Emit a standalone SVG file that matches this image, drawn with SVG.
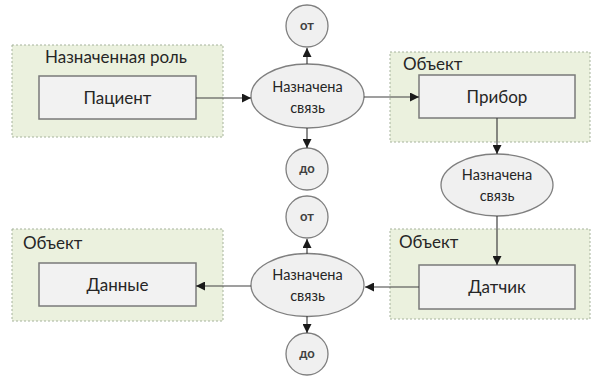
<svg xmlns="http://www.w3.org/2000/svg" width="597" height="376" viewBox="0 0 597 376">
<defs>
<marker id="ah" viewBox="0 0 10 10" refX="10" refY="5" markerWidth="9" markerHeight="9" markerUnits="userSpaceOnUse" orient="auto">
<path d="M0,0 L10,5 L0,10 z" fill="#1a1a1a"/>
</marker>
<style>
.grp{fill:#ebf1de;stroke:#a6b39c;stroke-width:1;stroke-dasharray:2 2}
.box{fill:#f2f2f2;stroke:#7a7a7a;stroke-width:1.5}
.ell{fill:#f0f0f0;stroke:#7f7f7f;stroke-width:1.3}
.t{font-family:Lato,"Liberation Sans",sans-serif;fill:#262626}
.title{font-size:17px}
.lbl{font-size:17px;text-anchor:middle}
.et{font-size:14.5px;text-anchor:middle}
.ct{font-size:13px;text-anchor:middle;font-weight:bold;fill:#404040}
.c{stroke:#404040;stroke-width:1.2;fill:none;marker-end:url(#ah)}
</style>
</defs>
<rect width="597" height="376" fill="#ffffff"/>
<g id="group-role">
<rect class="grp" x="12" y="45" width="211" height="92"/>
<text class="t title" x="45" y="63">Назначенная роль</text>
</g>
<g id="node-patient">
<rect class="box" x="39" y="76" width="157" height="43"/>
<text class="t lbl" x="117.5" y="103.5">Пациент</text>
</g>
<g id="group-object-1">
<rect class="grp" x="390" y="52" width="200" height="90"/>
<text class="t title" x="403" y="70">Объект</text>
</g>
<g id="node-device">
<rect class="box" x="419" y="75" width="156" height="43"/>
<text class="t lbl" x="497" y="102.5">Прибор</text>
</g>
<g id="group-object-2">
<rect class="grp" x="390" y="229" width="200" height="90"/>
<text class="t title" x="399" y="248">Объект</text>
</g>
<g id="node-sensor">
<rect class="box" x="419" y="265" width="156" height="44"/>
<text class="t lbl" x="497" y="292.5">Датчик</text>
</g>
<g id="group-object-3">
<rect class="grp" x="12" y="229" width="211" height="92"/>
<text class="t title" x="23" y="249">Объект</text>
</g>
<g id="node-data">
<rect class="box" x="39" y="263" width="157" height="43"/>
<text class="t lbl" x="117.5" y="291">Данные</text>
</g>
<g id="node-link-1">
<ellipse class="ell" cx="307.5" cy="96" rx="56.5" ry="32"/>
<text class="t et" x="307.5" y="92">Назначена</text>
<text class="t et" x="307.5" y="113">связь</text>
</g>
<g id="node-from-1">
<circle class="ell" cx="307" cy="26" r="21"/>
<text class="t ct" x="307" y="30">от</text>
</g>
<g id="node-to-1">
<circle class="ell" cx="307" cy="169" r="21"/>
<text class="t ct" x="307" y="173">до</text>
</g>
<g id="node-link-2">
<ellipse class="ell" cx="497" cy="185" rx="56" ry="31"/>
<text class="t et" x="497" y="180">Назначена</text>
<text class="t et" x="497" y="201">связь</text>
</g>
<g id="node-link-3">
<ellipse class="ell" cx="307.5" cy="285" rx="56.5" ry="31.5"/>
<text class="t et" x="307.5" y="280">Назначена</text>
<text class="t et" x="307.5" y="301">связь</text>
</g>
<g id="node-from-2">
<circle class="ell" cx="307" cy="217" r="21"/>
<text class="t ct" x="307" y="221">от</text>
</g>
<g id="node-to-2">
<circle class="ell" cx="307" cy="354" r="21"/>
<text class="t ct" x="307" y="358">до</text>
</g>
<g id="connectors">
<line class="c" x1="196" y1="98" x2="251" y2="98"/>
<line class="c" x1="364" y1="97" x2="419" y2="97"/>
<line class="c" x1="307" y1="64" x2="307" y2="48"/>
<line class="c" x1="307" y1="128" x2="307" y2="148"/>
<line class="c" x1="497" y1="118" x2="497" y2="154"/>
<line class="c" x1="497" y1="216" x2="497" y2="265"/>
<line class="c" x1="419" y1="287" x2="365" y2="287"/>
<line class="c" x1="251" y1="286" x2="196" y2="286"/>
<line class="c" x1="307" y1="254" x2="307" y2="239"/>
<line class="c" x1="307" y1="316" x2="307" y2="333"/>
</g>
</svg>
